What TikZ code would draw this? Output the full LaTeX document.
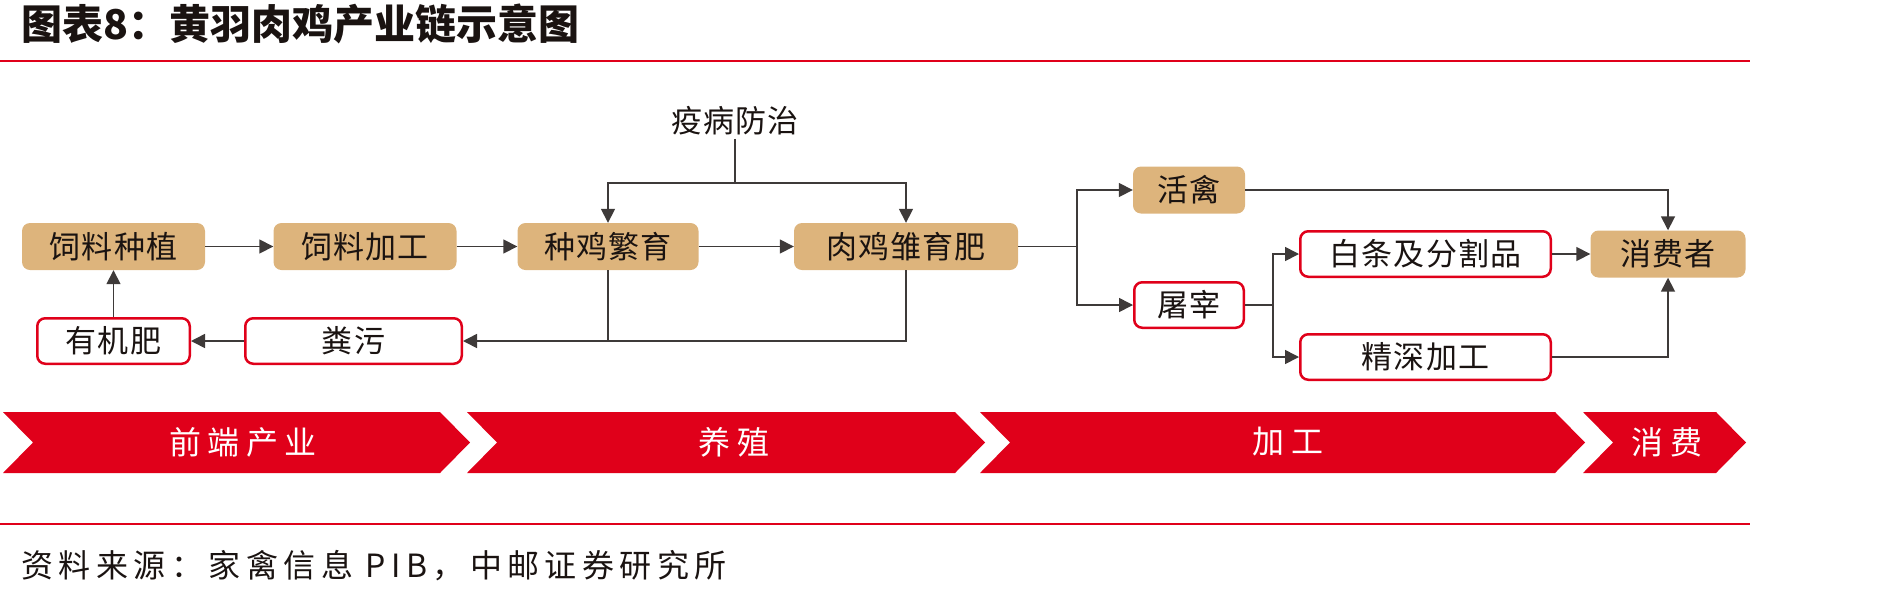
\documentclass[tikz,border=0pt]{standalone}
\usepackage{fontspec}
\setmainfont{Noto Sans CJK SC}
\usepackage{xcolor}
\definecolor{textdark}{HTML}{1A1311}
\definecolor{linegray}{HTML}{3E3A39}
\definecolor{tan}{HTML}{DDB47C}
\definecolor{chainred}{HTML}{E0001A}
\usepackage{tikz}
\usetikzlibrary{arrows.meta,positioning}

\begin{document}
\begin{tikzpicture}[x=1pt, y=-1pt,
    boxfont/.style={font=\fontsize{31}{36}\selectfont\addfontfeatures{LetterSpace=4}},
    goldbox/.style={boxfont, fill=tan, rounded corners=8pt, minimum height=47pt, inner sep=0pt,
      text=textdark},
    redbox/.style={boxfont, draw=chainred, line width=2.5pt, fill=white, rounded corners=8pt,
      minimum height=45.5pt, inner sep=0pt, text=textdark},
    flow/.style={draw=linegray, line width=1.6pt},
    arr/.style={flow, -{Triangle[length=14pt,width=14pt]}},
    bandlabel/.style={text=white, font=\fontsize{32}{36}\selectfont\addfontfeatures{LetterSpace=20}}]
  \useasboundingbox (0,0) rectangle (1902,598);

  % title and rules
  \node[anchor=west, font=\fontsize{41}{46}\selectfont\bfseries, text=textdark] (title) at (18,24) {图表8：黄羽肉鸡产业链示意图};
  \draw[chainred, line width=2pt] (0,61) -- (1750,61);
  \draw[chainred, line width=2pt] (0,524) -- (1750,524);
  \node[anchor=west, font=\fontsize{32}{36}\selectfont\addfontfeatures{LetterSpace=17}, text=textdark] (source) at (18,566) {资料来源：家禽信息 PIB，中邮证券研究所};

  % upstream and breeding
  \node[goldbox, minimum width=183pt] (zhongzhi) at (113.5,246.5) {饲料种植};
  \node[goldbox, minimum width=183pt] (jiagong) at (365,246.5) {饲料加工};
  \node[goldbox, minimum width=181pt] (fanyu) at (608,246.5) {种鸡繁育};
  \node[goldbox, minimum width=224pt] (yufei) at (906,246.5) {肉鸡雏育肥};
  \node[redbox, minimum width=152.5pt] (youjifei) at (113.5,341) {有机肥};
  \node[redbox, minimum width=216.5pt] (fenwu) at (353.5,341) {粪污};
  \node[boxfont, text=textdark] (yibing) at (735,121) {疫病防治};
  \coordinate (split) at (735,183);

  \draw[arr] (zhongzhi) -- (jiagong);
  \draw[arr] (jiagong) -- (fanyu);
  \draw[arr] (fanyu) -- (yufei);
  \draw[flow] (yibing.south) -- (split);
  \draw[arr] (split) -| (fanyu.north);
  \draw[arr] (split) -| (yufei.north);
  \draw[flow] (yufei.south) |- (fanyu.south |- fenwu.east);
  \draw[arr] (fanyu.south) |- (fenwu.east);
  \draw[arr] (fenwu) -- (youjifei);
  \draw[arr] (youjifei) -- (zhongzhi);

  % processing and consumption
  \node[goldbox, minimum width=112pt] (huoqin) at (1189,190) {活禽};
  \node[redbox, minimum width=109.5pt] (tuzai) at (1189,305) {屠宰};
  \node[redbox, minimum width=250.5pt] (baitiao) at (1425.5,254) {白条及分割品};
  \node[redbox, minimum width=250.5pt] (jingshen) at (1425.5,357) {精深加工};
  \node[goldbox, minimum width=155pt] (xiaofei) at (1668,254) {消费者};
  \coordinate (fork1) at (1077,246.5);
  \coordinate (fork2) at (1273,305);

  \draw[flow] (yufei.east) -- (fork1);
  \draw[arr] (fork1) |- (huoqin.west);
  \draw[arr] (fork1) |- (tuzai.west);
  \draw[flow] (tuzai.east) -- (fork2);
  \draw[arr] (fork2) |- (baitiao.west);
  \draw[arr] (fork2) |- (jingshen.west);
  \draw[arr] (baitiao) -- (xiaofei);
  \draw[arr] (huoqin.east) -| (xiaofei.north);
  \draw[arr] (jingshen.east) -| (xiaofei.south);

  % chain stages band
  \fill[chainred] (3,412) -- (440,412) -- (470,442.5) -- (440,473) -- (3,473) -- (33,442.5) -- cycle;
  \fill[chainred] (467,412) -- (955,412) -- (985,442.5) -- (955,473) -- (467,473) -- (497,442.5) -- cycle;
  \fill[chainred] (980,412) -- (1555,412) -- (1585,442.5) -- (1555,473) -- (980,473) -- (1010,442.5) -- cycle;
  \fill[chainred] (1583,412) -- (1716,412) -- (1746,442.5) -- (1716,473) -- (1583,473) -- (1613,442.5) -- cycle;
  \node[bandlabel] (qianduan) at (243,442) {前端产业};
  \node[bandlabel] (yangzhi) at (734,442) {养殖};
  \node[bandlabel] (jiagongband) at (1288,442) {加工};
  \node[bandlabel] (xiaofeiband) at (1667,442) {消费};
\end{tikzpicture}
\end{document}
